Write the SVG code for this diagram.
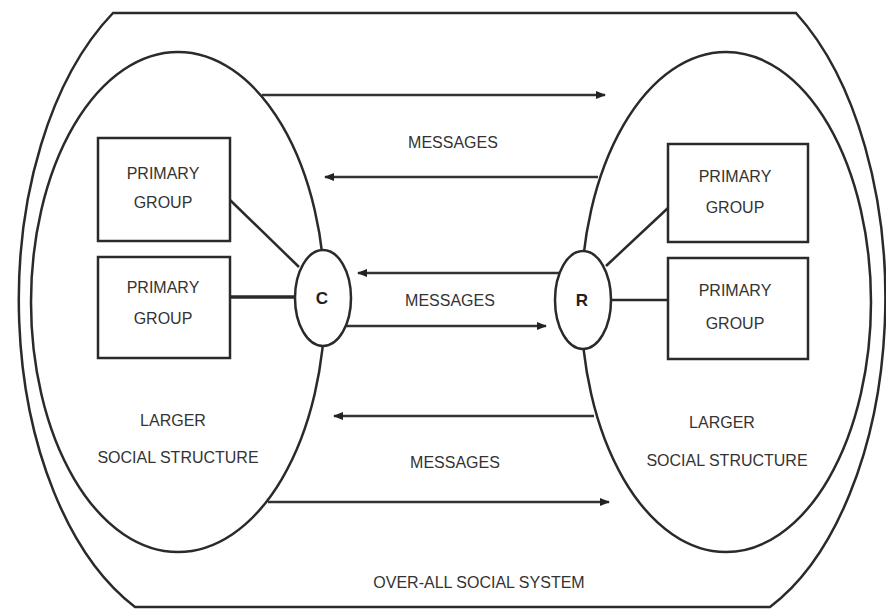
<svg xmlns="http://www.w3.org/2000/svg" width="886" height="614" viewBox="0 0 886 614">
<style>
.ln{fill:none;stroke:#2a2a2a;stroke-width:2.5}
.box{fill:#fff;stroke:#2a2a2a;stroke-width:2.5}
.circ{fill:#fff;stroke:#2a2a2a;stroke-width:2.5}
.arr{fill:none;stroke:#333;stroke-width:2.5}
.t{font-family:"Liberation Sans",Arial,sans-serif;font-size:16px;fill:#333;text-anchor:middle}
.lt{font-family:"Liberation Sans",Arial,sans-serif;font-size:17px;font-weight:bold;fill:#222;text-anchor:middle}
</style>
<defs>
<marker id="ah" viewBox="0 0 10 8" refX="9" refY="4" markerWidth="10" markerHeight="8" markerUnits="userSpaceOnUse" orient="auto">
<path d="M0,0 L10,4 L0,8 Z" fill="#222"/>
</marker>
</defs>
<rect width="886" height="614" fill="#fff"/>
<g id="overall-social-system">
<path class="ln" d="M113,13 L796,13 A190,336 0 0,1 770,607 L135,607 A196,336 0 0,1 113,13 Z"/>
<text class="t" x="479" y="588">OVER-ALL SOCIAL SYSTEM</text>
</g>
<g id="left-structure">
<ellipse class="ln" cx="178" cy="302" rx="147" ry="250"/>
<text class="t" x="173" y="426">LARGER</text>
<text class="t" x="178" y="463">SOCIAL STRUCTURE</text>
</g>
<g id="right-structure">
<ellipse class="ln" cx="726" cy="302" rx="145" ry="250"/>
<text class="t" x="722" y="428">LARGER</text>
<text class="t" x="727" y="466">SOCIAL STRUCTURE</text>
</g>
<g id="connectors">
<line class="arr" x1="262" y1="95" x2="605" y2="95" marker-end="url(#ah)"/>
<line class="arr" x1="598" y1="177" x2="325" y2="177" marker-end="url(#ah)"/>
<line class="arr" x1="560" y1="273" x2="358" y2="273" marker-end="url(#ah)"/>
<line class="arr" x1="346" y1="326" x2="546" y2="326" marker-end="url(#ah)"/>
<line class="arr" x1="594" y1="416" x2="334" y2="416" marker-end="url(#ah)"/>
<line class="arr" x1="268" y1="502" x2="609" y2="502" marker-end="url(#ah)"/>
<line class="ln" x1="230" y1="200" x2="299" y2="267"/>
<line class="ln" x1="230" y1="297" x2="296" y2="297" style="stroke-width:3.5"/>
<line class="ln" x1="606" y1="266" x2="668" y2="208"/>
<line class="ln" x1="611" y1="300" x2="668" y2="300"/>
</g>
<g id="messages-labels">
<text class="t" x="453" y="148">MESSAGES</text>
<text class="t" x="450" y="306">MESSAGES</text>
<text class="t" x="455" y="468">MESSAGES</text>
</g>
<g id="node-c">
<ellipse class="circ" cx="323" cy="298" rx="28" ry="48"/>
<text class="lt" x="322" y="304">C</text>
</g>
<g id="node-r">
<ellipse class="circ" cx="583" cy="300" rx="28" ry="49"/>
<text class="lt" x="582" y="306">R</text>
</g>
<g id="pg-left-1">
<rect class="box" x="98" y="138" width="132" height="103"/>
<text class="t" x="163" y="179">PRIMARY</text>
<text class="t" x="163" y="208">GROUP</text>
</g>
<g id="pg-left-2">
<rect class="box" x="98" y="257" width="132" height="101"/>
<text class="t" x="163" y="293">PRIMARY</text>
<text class="t" x="163" y="324">GROUP</text>
</g>
<g id="pg-right-1">
<rect class="box" x="668" y="144" width="140" height="98"/>
<text class="t" x="735" y="182">PRIMARY</text>
<text class="t" x="735" y="213">GROUP</text>
</g>
<g id="pg-right-2">
<rect class="box" x="668" y="258" width="140" height="101"/>
<text class="t" x="735" y="296">PRIMARY</text>
<text class="t" x="735" y="329">GROUP</text>
</g>
</svg>
